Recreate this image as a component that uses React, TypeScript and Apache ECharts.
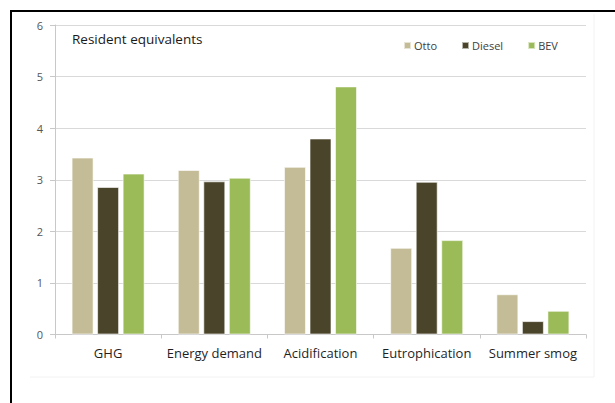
import React, { useEffect, useRef } from "react";
import * as echarts from "echarts";

const categories = ["GHG", "Energy demand", "Acidification", "Eutrophication", "Summer smog"];
const seriesNames = ["Otto", "Diesel", "BEV"];
const ottoValues = [3.43, 3.19, 3.25, 1.68, 0.78];
const dieselValues = [2.86, 2.97, 3.8, 2.96, 0.26];
const bevValues = [3.12, 3.04, 4.81, 1.83, 0.46];
const yTicks = [0, 1, 2, 3, 4, 5, 6];
const colors = ["#C4BC96", "#4A452A", "#9BBB59"];

const FONT = "'Open Sans', 'DejaVu Sans', sans-serif";

export default function App() {
  const ref = useRef<HTMLDivElement>(null);
  useEffect(() => {
    document.body.style.margin = "0";
    if (!ref.current) return;
    const chart = echarts.init(ref.current, undefined, { renderer: "svg" });
    const values = [ottoValues, dieselValues, bevValues];
    chart.setOption({
      animation: false,
      backgroundColor: "#ffffff",
      grid: { left: 55, right: 29, top: 25, bottom: 68.5 },
      legend: {
        data: seriesNames,
        left: 403,
        top: 40,
        padding: 0,
        itemWidth: 7,
        itemHeight: 7,
        itemGap: 24,
        icon: "rect",
        textStyle: { fontFamily: FONT, fontSize: 11, color: "#404040", padding: [0, 0, 0, -2] },
      },
      graphic: [
        {
          type: "text",
          left: 72,
          top: 32,
          style: { text: "Resident equivalents", fontFamily: FONT, fontSize: 13.5, fill: "#1a1a1a" },
        },
        { type: "line", shape: { x1: 10, y1: 11, x2: 615, y2: 11 }, style: { stroke: "#000", lineWidth: 2 } },
        { type: "line", shape: { x1: 11, y1: 10, x2: 11, y2: 403 }, style: { stroke: "#000", lineWidth: 2 } },
        { type: "line", shape: { x1: 30, y1: 377, x2: 594, y2: 377 }, style: { stroke: "#f2f2f2", lineWidth: 1 } },
        { type: "line", shape: { x1: 594, y1: 14, x2: 594, y2: 377 }, style: { stroke: "#f2f2f2", lineWidth: 1 } },
      ],
      xAxis: {
        type: "category",
        data: categories,
        axisLine: { lineStyle: { color: "#c8c8c8" } },
        axisTick: { show: true, length: 4, lineStyle: { color: "#c8c8c8" } },
        axisLabel: { interval: 0, fontFamily: FONT, fontSize: 13, color: "#1f1f1f", margin: 12 },
      },
      yAxis: {
        type: "value",
        min: yTicks[0],
        max: yTicks[yTicks.length - 1],
        interval: 1,
        axisLine: { show: true, lineStyle: { color: "#c8c8c8" } },
        axisTick: { show: true, length: 5, lineStyle: { color: "#c8c8c8" } },
        axisLabel: { fontFamily: FONT, fontSize: 11, color: "#555555", margin: 12 },
        splitLine: { lineStyle: { color: "#d9d9d9" } },
      },
      series: seriesNames.map((name, i) => ({
        name,
        type: "bar",
        data: values[i],
        barWidth: 22,
        barGap: "16%",
        itemStyle: { color: colors[i], borderColor: "rgba(255,255,255,0.6)", borderWidth: 1 },
      })),
    });
    return () => chart.dispose();
  }, []);
  return <div ref={ref} style={{ width: 615, height: 403 }} />;
}
